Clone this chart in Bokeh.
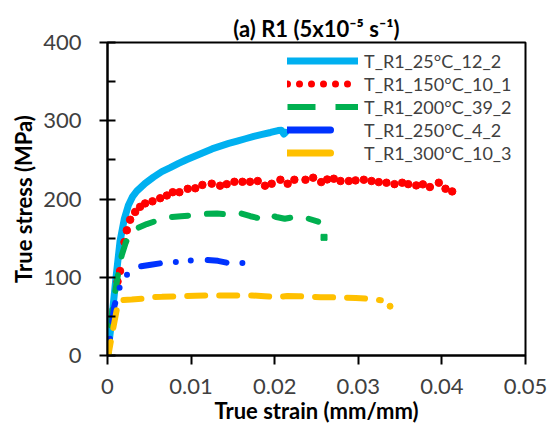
from bokeh.plotting import figure
from bokeh.models import Range1d, FixedTicker, Legend, LegendItem
from bokeh.embed import file_html
from bokeh.resources import INLINE

# ---------------- data ----------------
x_ticks = [0, 0.01, 0.02, 0.03, 0.04, 0.05]
x_tick_labels = ["0", "0.01", "0.02", "0.03", "0.04", "0.05"]
y_ticks = [0, 100, 200, 300, 400]
y_minor_ticks = [50, 150, 250, 350]
y_tick_labels = ["0", "100", "200", "300", "400"]

series_labels = ["T_R1_25°C_12_2", "T_R1_150°C_10_1", "T_R1_200°C_39_2",
                 "T_R1_250°C_4_2", "T_R1_300°C_10_3"]

strain_25 = [0, 0.0005, 0.001, 0.0015, 0.002, 0.0025, 0.003, 0.0035, 0.0045,
             0.0055, 0.0065, 0.0075, 0.0085, 0.0095, 0.0105, 0.0115, 0.0125,
             0.0135, 0.0145, 0.0155, 0.0165, 0.0175, 0.0185, 0.0195, 0.0204,
             0.0208, 0.0211, 0.0213]
stress_25 = [0, 45, 98, 146, 174, 192, 203, 210, 220, 228, 235, 240, 245.5,
             250.5, 255, 259.5, 264, 267.5, 271, 274, 277, 280, 282.5, 285,
             287.5, 288, 283, 285]

strain_150 = [0.0012, 0.0015, 0.00203, 0.00231, 0.00271, 0.00331, 0.0039,
              0.0045, 0.00538, 0.0063, 0.0071, 0.0078, 0.0086, 0.0096, 0.0105,
              0.01135, 0.01247, 0.01347, 0.01426, 0.01518, 0.01614, 0.01705,
              0.01797, 0.01884, 0.01964, 0.02068, 0.02155, 0.02235, 0.02368,
              0.0246, 0.02556, 0.02628, 0.02707, 0.02787, 0.02887, 0.02967,
              0.03066, 0.03158, 0.03245, 0.03337, 0.03433, 0.03525, 0.03597,
              0.03693, 0.03772, 0.03856, 0.03963, 0.04043, 0.04123]
stress_150 = [94.5, 108, 145, 160, 173.5, 183.5, 190, 194.4, 197, 201, 204.5,
              208.7, 208.7, 213, 213.7, 218, 219.6, 217, 219, 222, 222, 222,
              223, 217, 219.5, 224.6, 219.5, 224.6, 224.6, 227.2, 221.6, 225,
              225.9, 223, 223, 223.8, 224.6, 223, 221.6, 220.8, 219, 220.8,
              219, 217.4, 218.7, 215.3, 220.8, 213.1, 209.7]

strain_200 = [0.0001, 0.0006, 0.0012, 0.0017, 0.0022, 0.0028, 0.0034, 0.0047,
              0.006, 0.0076, 0.0088, 0.01, 0.0118, 0.0131, 0.0144, 0.0158,
              0.0171, 0.0184, 0.0192, 0.0202, 0.0212, 0.0228, 0.024, 0.0252,
              0.0259]
stress_200 = [0, 60, 100, 128, 145, 156, 162, 168, 172.6, 176.8, 178, 179, 181,
              181.5, 180, 182, 178, 174.7, 180, 177, 174.7, 178, 175, 171, 151]

strain_250 = [0, 0.0004, 0.0008, 0.00136, 0.00248, 0.00368, 0.0052, 0.00668,
              0.00816, 0.01, 0.01168, 0.0132, 0.01468, 0.01636]
stress_250 = [0, 30, 62, 85, 106, 113.5, 116, 118.4, 119.6, 121.6, 122.4, 121,
              117.6, 118.4]

strain_300 = [0.0001, 0.0006, 0.0011, 0.0015, 0.0029, 0.0043, 0.0051, 0.0065,
              0.0079, 0.0091, 0.0105, 0.0119, 0.0129, 0.0143, 0.0157, 0.0173,
              0.0188, 0.0203, 0.0215, 0.0229, 0.0243, 0.0255, 0.027, 0.0285,
              0.0297, 0.0312, 0.0327, 0.0338]
stress_300 = [0, 30, 58, 70.6, 71.5, 72.6, 74.7, 75, 75.5, 75.9, 76.3, 76.7,
              76.7, 76.7, 76.7, 76.7, 75.7, 74.7, 76, 75.7, 75, 74.5, 74.3, 74,
              73.5, 72.5, 70.5, 63]

colors = ["#00B0F0", "#FF0000", "#00B050", "#0033FF", "#FFC000"]

FONT = "Lato"
NAN = float("nan")

# ---------------- figure ----------------
p = figure(width=549, height=428, output_backend="svg", toolbar_location=None,
           x_range=Range1d(0, 0.05), y_range=Range1d(0, 400),
           min_border_left=107, min_border_right=24, min_border_top=42,
           min_border_bottom=73)
p.grid.visible = False
p.outline_line_color = "black"
p.outline_line_width = 2
p.outline_line_alpha = 1

p.title.text = "(a) R1 (5x10\u207b\u2075 s\u207b\u00b9)"
p.title.align = "center"
p.title.text_font = FONT
p.title.text_font_style = "bold"
p.title.text_font_size = "22px"
p.title.text_color = "black"
p.title.standoff = 2

# series
p.line(strain_25, stress_25, line_color=colors[0], line_width=7,
       line_cap="round", line_join="round")
p.scatter(strain_150, stress_150, size=7.5, fill_color=colors[1],
          line_color=colors[1])
p.line(strain_200[:-1], stress_200[:-1], line_color=colors[2], line_width=6,
       line_dash="16 19", line_dash_offset=5, line_cap="round")
p.scatter(strain_200[-1:], stress_200[-1:], marker="square", size=6,
          fill_color=colors[2], line_color=colors[2])
p.line(strain_250, stress_250, line_color=colors[3], line_width=6,
       line_dash="19 16 0 15 0 17", line_dash_offset=33, line_cap="round")
p.line(strain_300[:-1], stress_300[:-1], line_color=colors[4], line_width=6,
       line_dash="18 14", line_dash_offset=4, line_cap="round")
p.scatter(strain_300[-1:], stress_300[-1:], size=6, fill_color=colors[4],
          line_color=colors[4])

# legend sample glyphs (NaN data: nothing drawn in the plot, only in the legend)
lg0 = p.line([NAN], [NAN], line_color=colors[0], line_width=7, line_cap="round")
lg1 = p.line([NAN], [NAN], line_color=colors[1], line_width=7, line_cap="round",
             line_dash="0 12")
lg2 = p.line([NAN], [NAN], line_color=colors[2], line_width=6, line_dash="28 20")
lg3 = p.line([NAN], [NAN], line_color=colors[3], line_width=7, line_cap="round",
             line_dash="43 40")
lg4 = p.line([NAN], [NAN], line_color=colors[4], line_width=7, line_cap="round",
             line_dash="43 40")

legend = Legend(items=[LegendItem(label=series_labels[i], renderers=[r])
                       for i, r in enumerate([lg0, lg1, lg2, lg3, lg4])],
                location=(180, 191), glyph_width=71, glyph_height=23,
                label_height=23, spacing=0, padding=0, margin=0,
                label_standoff=6, border_line_alpha=0,
                background_fill_alpha=0, label_text_font=FONT,
                label_text_font_size="18px", label_text_color="#404040")
p.add_layout(legend)

# axes
xa = p.xaxis[0]
xa.ticker = FixedTicker(ticks=x_ticks)
xa.major_label_overrides = {t: l for t, l in zip(x_ticks, x_tick_labels)}
xa.major_tick_in = 0
xa.major_tick_out = 9
xa.major_label_standoff = 14
xa.axis_label = "True strain (mm/mm)"
xa.axis_label_standoff = 0

ya = p.yaxis[0]
ya.ticker = FixedTicker(ticks=y_ticks, minor_ticks=y_minor_ticks)
ya.major_label_overrides = {t: l for t, l in zip(y_ticks, y_tick_labels)}
ya.major_tick_in = 8
ya.major_tick_out = 8
ya.minor_tick_in = 8
ya.minor_tick_out = 0
ya.major_label_standoff = 18
ya.axis_label = "True stress (MPa)"
ya.axis_label_standoff = 3

for ax in (xa, ya):
    ax.axis_line_color = "black"
    ax.axis_line_width = 2
    ax.major_tick_line_color = "black"
    ax.major_tick_line_width = 2
    ax.minor_tick_line_color = "black"
    ax.minor_tick_line_width = 2
    ax.major_label_text_font = FONT
    ax.major_label_text_font_size = "22px"
    ax.major_label_text_color = "#404040"
    ax.axis_label_text_font = FONT
    ax.axis_label_text_font_style = "bold"
    ax.axis_label_text_font_size = "22px"
    ax.axis_label_text_color = "black"

open("out.html", "w").write(file_html(p, INLINE))
